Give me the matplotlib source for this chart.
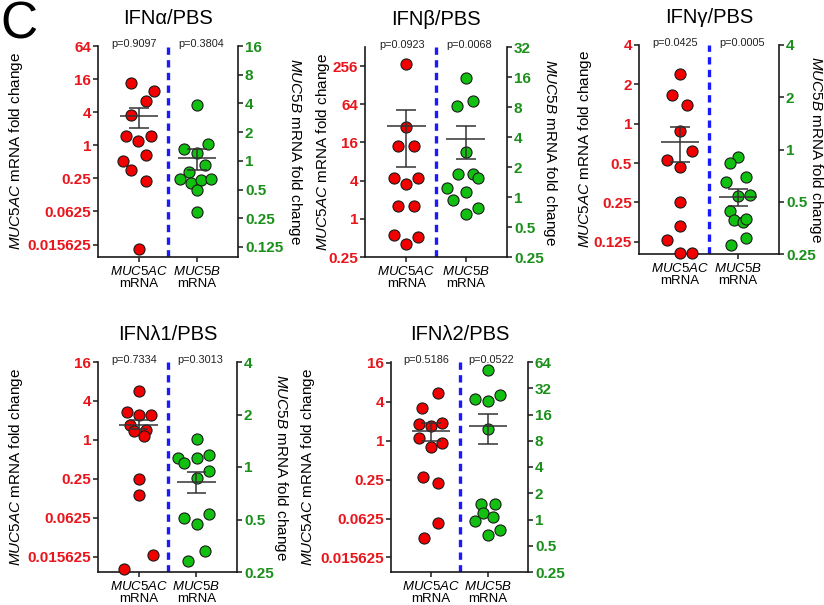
import matplotlib
matplotlib.use('Agg')
import matplotlib.pyplot as plt
from matplotlib.ticker import NullLocator, FixedLocator

plt.rcParams['font.family'] = ['Liberation Sans', 'DejaVu Sans']
plt.rcParams['mathtext.fontset'] = 'custom'
plt.rcParams['mathtext.rm'] = 'Liberation Sans'
plt.rcParams['mathtext.it'] = 'Liberation Sans:italic'
plt.rcParams['mathtext.bf'] = 'Liberation Sans:bold'

# ---------------- data ----------------
categories = ['MUC5AC', 'MUC5B']
titles = ['IFNα/PBS', 'IFNβ/PBS', 'IFNγ/PBS', 'IFNλ1/PBS', 'IFNλ2/PBS']

# IFN alpha
alpha_muc5ac = [13.7, 9.6, 6.4, 3.6, 1.47, 1.47, 1.19, 0.66, 0.51, 0.36, 0.22, 0.013]
alpha_muc5ac_jit = [-0.14, 0.26, 0.13, -0.14, -0.22, 0.21, -0.01, 0.12, -0.27, -0.14, 0.13, 0.0]
alpha_muc5ac_mean_sem = [3.4, 4.8, 2.1]
alpha_muc5b = [3.86, 1.49, 1.33, 1.21, 0.91, 0.77, 0.64, 0.59, 0.63, 0.64, 0.49, 0.29]
alpha_muc5b_jit = [-0.01, 0.19, -0.23, -0.01, 0.13, -0.14, -0.29, -0.11, 0.06, 0.23, -0.01, -0.01]
alpha_muc5b_mean_sem = [1.06, 1.34, 0.80]
alpha_p = ['p=0.9097', 'p=0.3804']

# IFN beta
beta_muc5ac = [278, 27.9, 14.2, 14.2, 4.35, 4.35, 3.53, 1.6, 1.6, 0.55, 0.52, 0.40]
beta_muc5ac_jit = [0.0, 0.0, -0.14, 0.13, -0.21, 0.2, 0.0, -0.14, 0.13, -0.21, 0.2, -0.01]
beta_muc5ac_mean_sem = [29.2, 52.3, 6.6]
beta_muc5b = [15.6, 8.2, 9.1, 2.85, 1.69, 1.69, 1.55, 1.23, 1.13, 0.94, 0.77, 0.67]
beta_muc5b_jit = [0.0, -0.14, 0.12, 0.0, -0.13, 0.12, 0.21, -0.31, 0.0, -0.21, 0.21, 0.0]
beta_muc5b_mean_sem = [3.81, 5.13, 2.41]
beta_p = ['p=0.0923', 'p=0.0068']

# IFN gamma
gamma_muc5ac = [2.38, 1.67, 1.40, 0.88, 0.62, 0.53, 0.47, 0.25, 0.165, 0.129, 0.103, 0.103]
gamma_muc5ac_jit = [0.0, -0.13, 0.13, 0.0, 0.21, -0.22, 0.0, 0.0, 0.0, -0.22, 0.0, 0.2]
gamma_muc5ac_mean_sem = [0.72, 0.94, 0.51]
gamma_muc5b = [0.91, 0.84, 0.69, 0.65, 0.54, 0.55, 0.44, 0.39, 0.38, 0.40, 0.31, 0.28]
gamma_muc5b_jit = [0.0, -0.14, 0.14, -0.21, 0.0, 0.21, -0.14, -0.08, 0.09, 0.14, 0.14, -0.12]
gamma_muc5b_mean_sem = [0.53, 0.59, 0.47]
gamma_p = ['p=0.0425', 'p=0.0005']

# IFN lambda1
lambda1_muc5ac = [5.66, 2.69, 2.45, 2.45, 1.73, 1.44, 1.35, 1.16, 0.245, 0.14, 0.0164, 0.0102]
lambda1_muc5ac_jit = [0.0, -0.2, 0.0, 0.21, -0.14, 0.13, -0.08, 0.09, 0.0, 0.0, 0.25, -0.25]
lambda1_muc5ac_mean_sem = [1.72, 2.0, 1.46]
lambda1_muc5b = [1.44, 1.13, 1.06, 1.13, 1.17, 0.95, 0.86, 0.51, 0.47, 0.54, 0.33, 0.29]
lambda1_muc5b_jit = [0.01, -0.32, -0.21, 0.01, 0.21, 0.21, 0.01, -0.21, 0.01, 0.21, 0.14, -0.14]
lambda1_muc5b_mean_sem = [0.82, 0.93, 0.71]
lambda1_p = ['p=0.7334', 'p=0.3013']

# IFN lambda2
lambda2_muc5ac = [5.39, 3.27, 1.80, 1.67, 1.85, 1.09, 0.92, 0.79, 0.27, 0.22, 0.053, 0.031]
lambda2_muc5ac_jit = [0.13, -0.15, -0.21, 0.0, 0.2, -0.21, 0.2, 0.0, -0.14, 0.13, 0.13, -0.13]
lambda2_muc5ac_mean_sem = [1.44, 1.85, 1.0]
lambda2_muc5b = [51.3, 24.1, 23.1, 27.1, 10.9, 1.49, 1.49, 1.2, 1.06, 0.95, 0.76, 0.66]
lambda2_muc5b_jit = [0.0, -0.22, 0.0, 0.21, 0.0, -0.13, 0.13, -0.08, 0.09, -0.22, 0.21, 0.0]
lambda2_muc5b_mean_sem = [11.9, 16.4, 7.3]
lambda2_p = ['p=0.5186', 'p=0.0522']

# tick labels
ticks_l1 = ['0.015625', '0.0625', '0.25', '1', '4', '16', '64']
ticks_r1 = ['0.125', '0.25', '0.5', '1', '2', '4', '8', '16']
ticks_l2 = ['0.25', '1', '4', '16', '64', '256']
ticks_r2 = ['0.25', '0.5', '1', '2', '4', '8', '16', '32']
ticks_l3 = ['0.125', '0.25', '0.5', '1', '2', '4']
ticks_r3 = ['0.25', '0.5', '1', '2', '4']
ticks_l4 = ['0.015625', '0.0625', '0.25', '1', '4', '16']
ticks_r4 = ['0.25', '0.5', '1', '2', '4']
ticks_l5 = ['0.015625', '0.0625', '0.25', '1', '4', '16']
ticks_r5 = ['0.25', '0.5', '1', '2', '4', '8', '16', '32', '64']

# ---------------- style ----------------
RED = '#f20000'
GREEN = '#12c012'
RED_TXT = '#e8161c'
GREEN_TXT = '#1a8f1a'
BLUE = '#1a1aff'
W, H = 824, 605

fig = plt.figure(figsize=(W / 100, H / 100), dpi=100)
fig.patch.set_facecolor('white')

fig.text(0.001, 0.999, 'C', fontsize=37, ha='left', va='top')

ylab_l = r'$\mathit{MUC5AC}$ mRNA fold change'
ylab_r = r'$\mathit{MUC5B}$ mRNA fold change'
xlabels = [r'$\mathit{%s}$' % c + '\nmRNA' for c in categories]


def px_rect(l, r, t, b):
    return [l / W, 1 - b / H, (r - l) / W, (b - t) / H]


def draw(rect, title, red, red_j, red_ms, green, green_j, green_ms, pvals,
         tl, tr, ylim_l, ylim_r, lx, rx, show_right_label=True):
    ax = fig.add_axes(rect)
    ax2 = ax.twinx()
    for a in (ax, ax2):
        a.set_yscale('log', base=2)
        a.patch.set_visible(False)
    ax.set_xlim(-0.7, 1.7)
    ax.set_ylim(*ylim_l)
    ax2.set_ylim(*ylim_r)

    # spines
    ax.spines['top'].set_visible(False)
    ax.spines['right'].set_visible(False)
    for s in ('top', 'left', 'bottom'):
        ax2.spines[s].set_visible(False)
    for s in ('left', 'bottom'):
        ax.spines[s].set_linewidth(1.2)
        ax.spines[s].set_color('#1a1a1a')
    ax2.spines['right'].set_linewidth(1.2)
    ax2.spines['right'].set_color('#1a1a1a')

    # ticks
    ax.yaxis.set_major_locator(FixedLocator([float(t) for t in tl]))
    ax.yaxis.set_minor_locator(NullLocator())
    ax.set_yticklabels(tl, fontsize=11, fontweight='bold', color=RED_TXT)
    ax2.yaxis.set_major_locator(FixedLocator([float(t) for t in tr]))
    ax2.yaxis.set_minor_locator(NullLocator())
    ax2.set_yticklabels(tr, fontsize=11, fontweight='bold', color=GREEN_TXT)
    ax.tick_params(axis='y', length=3.5, width=1.1, pad=1.5, color='#1a1a1a')
    ax2.tick_params(axis='y', length=3.5, width=1.1, pad=1.5, color='#1a1a1a')
    ax.set_xticks([0, 1])
    ax.set_xticklabels(xlabels, fontsize=9.5, linespacing=1.05)
    ax.tick_params(axis='x', length=3.5, width=1.1, pad=2, color='#1a1a1a')

    # labels (both centred on their anchor)
    ax.set_ylabel(ylab_l, fontsize=11, va='center')
    ax.yaxis.set_label_coords(lx, 0.5)
    if show_right_label:
        ax2.set_ylabel(ylab_r, fontsize=11, rotation=270, va='center')
        ax2.yaxis.set_label_coords(rx, 0.5)

    # separator
    ax.axvline(0.5, color=BLUE, lw=2.4, ls=(0, (2.2, 1.6)), zorder=1)

    # points
    ax.scatter([0 + j for j in red_j], red, s=64, c=RED, edgecolors='#1a1a1a',
               linewidths=0.8, zorder=5, clip_on=False)
    ax2.scatter([1 + j for j in green_j], green, s=64, c=GREEN, edgecolors='#1a1a1a',
                linewidths=0.8, zorder=5, clip_on=False)

    # mean +/- SEM
    for a, xc, ms in ((ax, 0, red_ms), (ax2, 1, green_ms)):
        m, hi, lo = ms
        a.hlines(m, xc - 0.33, xc + 0.33, color='#333333', lw=1.1, zorder=6)
        a.vlines(xc, lo, hi, color='#333333', lw=1.1, zorder=6)
        a.hlines([hi, lo], xc - 0.17, xc + 0.17, color='#333333', lw=1.1, zorder=6)

    # p-values and title
    ax.text(-0.08, 1.01, pvals[0], transform=ax.get_xaxis_transform(),
            ha='center', va='center', fontsize=7.8, color='#222222')
    ax.text(1.06, 1.01, pvals[1], transform=ax.get_xaxis_transform(),
            ha='center', va='center', fontsize=7.8, color='#222222')
    ax.text(0.5, 1.13, title, transform=ax.transAxes, ha='center', va='center',
            fontsize=14.5)
    return ax, ax2


# label x positions: centre of rotated label, in axes fraction
draw(px_rect(98, 238, 46, 257), titles[0],
     alpha_muc5ac, alpha_muc5ac_jit, alpha_muc5ac_mean_sem,
     alpha_muc5b, alpha_muc5b_jit, alpha_muc5b_mean_sem, alpha_p,
     ticks_l1, ticks_r1, (2 ** -6.75, 64), (2 ** -3.35, 16),
     (16 - 98) / 140, (295 - 98) / 140)

draw(px_rect(365, 507, 47, 257), titles[1],
     beta_muc5ac, beta_muc5ac_jit, beta_muc5ac_mean_sem,
     beta_muc5b, beta_muc5b_jit, beta_muc5b_mean_sem, beta_p,
     ticks_l2, ticks_r2, (0.25, 512), (0.25, 32),
     (323 - 365) / 142, (550 - 365) / 142)

draw(px_rect(639, 779, 45, 254), titles[2],
     gamma_muc5ac, gamma_muc5ac_jit, gamma_muc5ac_mean_sem,
     gamma_muc5b, gamma_muc5b_jit, gamma_muc5b_mean_sem, gamma_p,
     ticks_l3, ticks_r3, (2 ** -3.31, 4), (0.25, 4),
     (585 - 639) / 140, (816 - 639) / 140)

draw(px_rect(98, 237, 362, 572), titles[3],
     lambda1_muc5ac, lambda1_muc5ac_jit, lambda1_muc5ac_mean_sem,
     lambda1_muc5b, lambda1_muc5b_jit, lambda1_muc5b_mean_sem, lambda1_p,
     ticks_l4, ticks_r4, (2 ** -6.78, 16), (0.25, 4),
     (16 - 98) / 139, (281 - 98) / 139)

draw(px_rect(391, 528, 362, 572), titles[4],
     lambda2_muc5ac, lambda2_muc5ac_jit, lambda2_muc5ac_mean_sem,
     lambda2_muc5b, lambda2_muc5b_jit, lambda2_muc5b_mean_sem, lambda2_p,
     ticks_l5, ticks_r5, (2 ** -6.75, 2 ** 4.05), (0.25, 64),
     (308 - 391) / 137, 1.3, show_right_label=False)

fig.savefig('out.png', dpi=100, facecolor='white')
